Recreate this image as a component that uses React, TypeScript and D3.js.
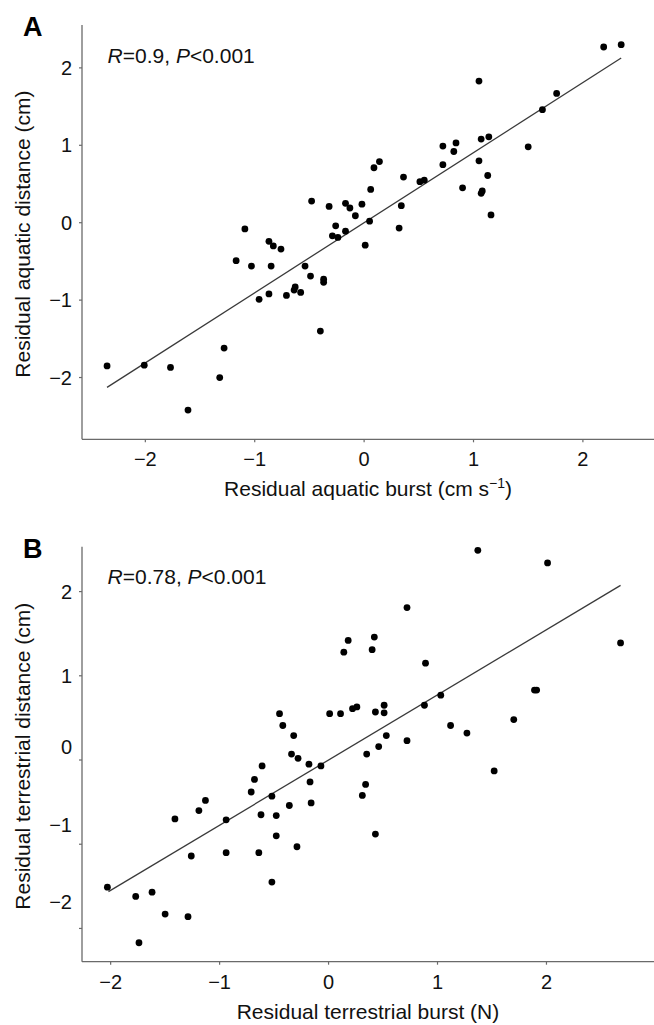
import React from 'react';
import * as d3 from 'd3';

// Panel A: residual aquatic burst (x) vs residual aquatic distance (y)
const aquaticBurst = [
  2.19, 2.35, 1.05, 1.76, 1.63, 1.50, 0.72, 0.84, 0.82, 1.07, 1.14, 0.72, 1.05, 1.13, 0.90, 1.07,
  1.08, 1.16, 0.51, 0.55, 0.36, 0.34, 0.32, 0.14, 0.09, 0.06, 0.05, 0.01, -0.02, -0.08, -0.13, -0.17,
  -0.32, -0.48, -0.26, -0.17, -0.29, -0.24, -1.09, -0.87, -0.83, -0.76, -1.17, -1.03, -0.85, -0.54,
  -0.49, -0.37, -0.37, -0.96, -0.87, -0.71, -0.63, -0.64, -0.58, -0.40, -2.35, -2.01, -1.77, -1.32,
  -1.28, -1.61,
];
const aquaticDistance = [
  2.27, 2.30, 1.83, 1.67, 1.46, 0.98, 0.99, 1.03, 0.92, 1.08, 1.11, 0.75, 0.80, 0.61, 0.45, 0.38,
  0.41, 0.10, 0.53, 0.55, 0.59, 0.22, -0.07, 0.79, 0.71, 0.43, 0.02, -0.29, 0.24, 0.09, 0.19, 0.25,
  0.21, 0.28, -0.04, -0.11, -0.17, -0.19, -0.08, -0.24, -0.30, -0.34, -0.49, -0.56, -0.56, -0.56,
  -0.69, -0.73, -0.77, -0.99, -0.92, -0.94, -0.83, -0.87, -0.90, -1.40, -1.85, -1.84, -1.87, -2.00,
  -1.62, -2.42,
];

// Panel B: residual terrestrial burst (x) vs residual terrestrial distance (y)
const terrestrialBurst = [
  -2.03, -1.77, -1.62, -1.50, -1.29, -1.74, -1.41, -1.19, -1.13, -1.26, -0.94, -0.94, -0.71, -0.68,
  -0.61, -0.52, -0.62, -0.64, -0.48, -0.48, -0.52, -0.36, -0.29, -0.45, -0.42, -0.32, -0.34, -0.28,
  -0.18, -0.17, -0.16, -0.07, 0.01, 0.11, 0.22, 0.26, 0.43, 0.51, 0.51, 0.53, 0.46, 0.35, 0.34, 0.31,
  0.43, 1.37, 2.01, 0.72, 0.18, 0.14, 0.42, 0.40, 0.89, 2.68, 1.89, 1.91, 1.03, 0.88, 1.70, 1.12,
  1.27, 1.52, 0.72,
];
const terrestrialDistance = [
  -1.51, -1.62, -1.57, -1.83, -1.86, -2.17, -0.70, -0.60, -0.48, -1.14, -0.71, -1.10, -0.38, -0.23,
  -0.07, -0.43, -0.65, -1.10, -0.66, -0.90, -1.45, -0.54, -1.03, 0.55, 0.41, 0.29, 0.07, 0.02,
  -0.05, -0.26, -0.51, -0.07, 0.55, 0.55, 0.61, 0.63, 0.57, 0.56, 0.65, 0.29, 0.16, 0.07, -0.29, -0.42,
  -0.88, 2.49, 2.34, 1.81, 1.42, 1.28, 1.46, 1.31, 1.15, 1.39, 0.83, 0.83, 0.77, 0.65, 0.48, 0.41,
  0.32, -0.13, 0.23,
];

const xTickValues = [-2, -1, 0, 1, 2];
const yTickValues = [2, 1, 0, -1, -2];
const tickLabels = ['\u22122', '\u22121', '0', '1', '2'];
const yTickLabels = ['2', '1', '0', '\u22121', '\u22122'];

// fitted lines (slope, x-extent)
const fitA = { slope: 0.905, from: -2.35, to: 2.35 };
const fitB = { slope: 0.774, from: -2.02, to: 2.68 };

const FONT = '"Liberation Sans", Arial, Helvetica, sans-serif';

type PanelProps = {
  letter: string;
  xs: number[];
  ys: number[];
  fit: { slope: number; from: number; to: number };
  rText: string;
  xTitle: React.ReactNode;
  yTitle: string;
  frame: { left: number; right: number; top: number; bottom: number };
  xDomain: [number, number];
  yDomain: [number, number];
  yLabelShift: number[];
  xLabelDy: number;
};

function Panel(p: PanelProps) {
  const x = d3.scaleLinear().domain(p.xDomain).range([p.frame.left, p.frame.right]);
  const y = d3.scaleLinear().domain(p.yDomain).range([p.frame.bottom, p.frame.top]);
  const line = d3.line<number>().x((v) => x(v)).y((v) => y(v * p.fit.slope));
  const axisColor = '#6a6a6a';
  const midX = (p.frame.left + p.frame.right) / 2;
  const midY = (p.frame.top + p.frame.bottom) / 2;
  return (
    <g fontFamily={FONT}>
      <text x={p.frame.left - 59} y={p.frame.top + 11} fontSize={27} fontWeight="bold" fill="#000">
        {p.letter}
      </text>
      {/* axes */}
      <line x1={p.frame.left} x2={p.frame.left} y1={p.frame.top} y2={p.frame.bottom} stroke={axisColor} strokeWidth={1.3} />
      <line x1={p.frame.left} x2={p.frame.right} y1={p.frame.bottom} y2={p.frame.bottom} stroke={axisColor} strokeWidth={1.3} />
      {xTickValues.map((v, i) => (
        <g key={'xt' + v}>
          <line x1={x(v)} x2={x(v)} y1={p.frame.bottom} y2={p.frame.bottom + 3} stroke={axisColor} strokeWidth={1.2} />
          <text x={x(v)} y={p.frame.bottom + p.xLabelDy} fontSize={20} textAnchor="middle" fill="#111">
            {tickLabels[i]}
          </text>
        </g>
      ))}
      {yTickValues.map((v, i) => (
        <g key={'yt' + v}>
          <line x1={p.frame.left - 3} x2={p.frame.left} y1={y(v)} y2={y(v)} stroke={axisColor} strokeWidth={1.2} />
          <text x={p.frame.left - 10} y={y(v) + p.yLabelShift[i] + 7} fontSize={20} textAnchor="end" fill="#111">
            {yTickLabels[i]}
          </text>
        </g>
      ))}
      {/* titles */}
      <text x={midX} y={p.frame.bottom + 57} fontSize={21} textAnchor="middle" fill="#111">
        {p.xTitle}
      </text>
      <text
        transform={`translate(29.5,${midY + 2}) rotate(-90)`}
        fontSize={21}
        textAnchor="middle"
        fill="#111"
      >
        {p.yTitle}
      </text>
      <text x={107.6} y={p.frame.top + 37.5} fontSize={21} fill="#111">
        <tspan fontStyle="italic">R</tspan>
        {'=' + p.rText + ', '}
        <tspan fontStyle="italic">P</tspan>
        {'<0.001'}
      </text>
      {/* fit line */}
      <path d={line([p.fit.from, p.fit.to]) || ''} stroke="#3a3a3a" strokeWidth={1.3} fill="none" />
      {/* points */}
      {p.xs.map((v, i) => (
        <circle key={i} cx={x(v)} cy={y(p.ys[i])} r={3.4} fill="#000" />
      ))}
    </g>
  );
}

export default function App() {
  return (
    <div style={{ position: 'absolute', left: 0, top: 0 }}>
      <svg width={654} height={1025} style={{ display: 'block', background: '#fff' }}>
        <Panel
          letter="A"
          xs={aquaticBurst}
          ys={aquaticDistance}
          fit={fitA}
          rText="0.9"
          xTitle={
            <>
              {'Residual aquatic burst (cm s'}
              <tspan fontSize={14} dy={-8}>{'\u22121'}</tspan>
              <tspan dy={8}>{')'}</tspan>
            </>
          }
          yTitle="Residual aquatic distance (cm)"
          frame={{ left: 82, right: 654, top: 25, bottom: 439.3 }}
          xDomain={[-2.579, 2.65]}
          yDomain={[-2.798, 2.554]}
          yLabelShift={[0, 0, 0, 0, 0]}
          xLabelDy={26.5}
        />
        <Panel
          letter="B"
          xs={terrestrialBurst}
          ys={terrestrialDistance}
          fit={fitB}
          rText="0.78"
          xTitle="Residual terrestrial burst (N)"
          yTitle="Residual terrestrial distance (cm)"
          frame={{ left: 82, right: 654, top: 546.7, bottom: 961.7 }}
          xDomain={[-2.263, 2.987]}
          yDomain={[-2.395, 2.533]}
          yLabelShift={[0, 0, -12.7, -19, -26.7]}
          xLabelDy={27.5}
        />
      </svg>
    </div>
  );
}
